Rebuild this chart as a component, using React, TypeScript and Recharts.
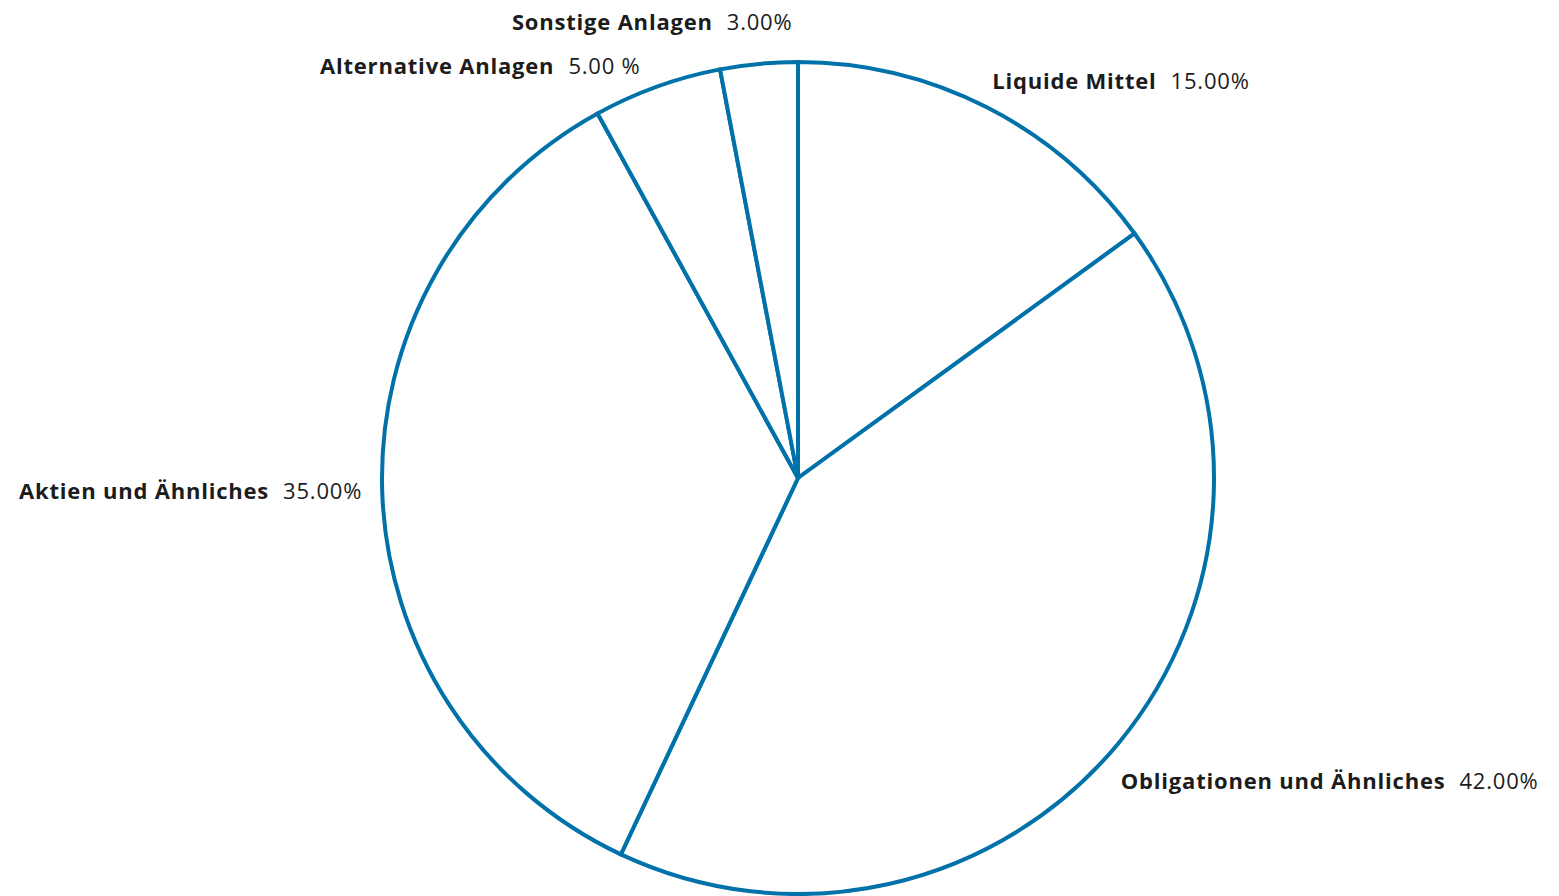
import { PieChart, Pie, Cell } from "recharts";

// Vermögensaufteilung, im Uhrzeigersinn ab 12 Uhr
const categories = [
  "Liquide Mittel",
  "Obligationen und Ähnliches",
  "Aktien und Ähnliches",
  "Alternative Anlagen",
  "Sonstige Anlagen",
];
const shares = [15, 42, 35, 5, 3];
const valueLabels = ["15.00%", "42.00%", "35.00%", "5.00 %", "3.00%"];

const data = categories.map((name, i) => ({ name, value: shares[i], label: valueLabels[i] }));

const RADIAN = Math.PI / 180;
// kleine Verschiebungen der Beschriftungen gegenüber der Standardposition
const labelNudge = [
  [-6, -5],
  [-17, 21],
  [5, -2],
  [-8, 2],
  [36, -18],
];

function renderLabel(props: any) {
  const { cx, cy, midAngle, outerRadius, index } = props;
  const r = outerRadius + 25;
  const cos = Math.cos(-midAngle * RADIAN);
  const sin = Math.sin(-midAngle * RADIAN);
  const x = cx + r * cos + labelNudge[index][0];
  const y = cy + r * sin + labelNudge[index][1];
  const anchor = cos >= 0 ? "start" : "end";
  const d = data[index];
  return (
    <text
      x={x}
      y={y}
      textAnchor={anchor}
      dominantBaseline="central"
      fill="#1c1c1c"
      fontFamily="'Open Sans', Lato, sans-serif"
      fontSize={22}
      letterSpacing={0.8}
    >
      <tspan fontWeight={700}>{d.name}</tspan>
      <tspan fontWeight={400} dx={14}>{d.label}</tspan>
    </text>
  );
}

export default function App() {
  return (
    <div style={{ position: "absolute", left: 0, top: 0, width: 1559, height: 896, background: "#fff" }}>
      <PieChart width={1559} height={896} margin={{ top: 0, right: 0, bottom: 0, left: 0 }}>
        <Pie
          data={data}
          dataKey="value"
          nameKey="name"
          cx={798}
          cy={478}
          outerRadius={416}
          startAngle={90}
          endAngle={-270}
          stroke="#0071a9"
          strokeWidth={4}
          label={renderLabel}
          labelLine={false}
          isAnimationActive={false}
        >
          {data.map((entry, index) => (
            <Cell key={`cell-${index}`} fill="#ffffff" />
          ))}
        </Pie>
      </PieChart>
    </div>
  );
}
